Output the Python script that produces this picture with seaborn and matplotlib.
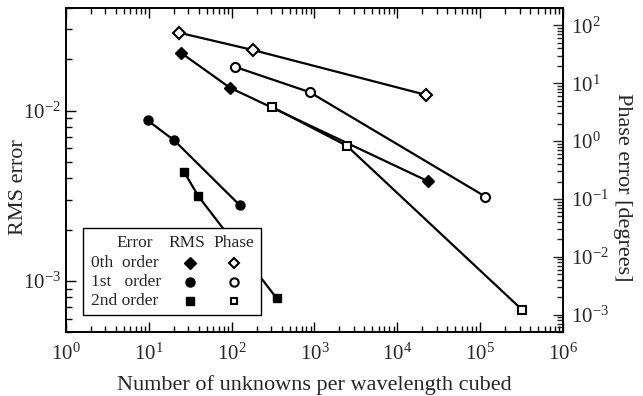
import numpy as np
import pandas as pd
import seaborn as sns
import matplotlib
matplotlib.use("Agg")
import matplotlib.pyplot as plt
from matplotlib.ticker import FixedLocator, LogFormatterMathtext, NullFormatter
from matplotlib.patches import Rectangle
from matplotlib.lines import Line2D

# Unknowns per wavelength cubed and errors for each basis order
n_rms0 = [24.5, 95.5, 23500]
rms0 = [0.0218, 0.0136, 0.00384]
n_rms1 = [9.7, 20.3, 126]
rms1 = [0.00874, 0.00667, 0.00277]
n_rms2 = [26.8, 39.6, 350]
rms2 = [0.00434, 0.00314, 0.000788]

n_ph0 = [23.2, 181, 22300]
ph0 = [74.8, 37.5, 6.28]
n_ph1 = [111, 877, 115000]
ph1 = [19.1, 7.0, 0.11]
n_ph2 = [307, 2455, 319000]
ph2 = [3.9, 0.83, 0.00122]

order_labels = ["0th  order", "1st   order", "2nd order"]
header_labels = ["Error", "RMS", "Phase"]

x_major = [1e0, 1e1, 1e2, 1e3, 1e4, 1e5, 1e6]
rms_major = [1e-3, 1e-2]
ph_major = [1e-3, 1e-2, 1e-1, 1e0, 1e1, 1e2]


def minor_ticks(lo, hi):
    vals = []
    for e in range(int(np.floor(np.log10(lo))), int(np.ceil(np.log10(hi))) + 1):
        for k in range(2, 10):
            v = k * 10.0 ** e
            if lo <= v <= hi:
                vals.append(v)
    return vals


sns.set_style("ticks")
plt.rcParams["font.family"] = ["Liberation Serif", "DejaVu Serif"]
plt.rcParams["mathtext.fontset"] = "custom"
plt.rcParams["mathtext.rm"] = "Liberation Serif"
plt.rcParams["mathtext.it"] = "Liberation Serif:italic"
plt.rcParams["mathtext.bf"] = "Liberation Serif:bold"
plt.rcParams["axes.unicode_minus"] = False

fig = plt.figure(figsize=(6.43, 3.96), dpi=100)
ax = fig.add_axes([0.1026, 0.1616, 0.773, 0.8182])
ax2 = ax.twinx()

markers = ["D", "o", "s"]
msizes = [6.0, 6.5, 5.5]
lw = 1.6

rms_sets = [(n_rms0, rms0), (n_rms1, rms1), (n_rms2, rms2)]
ph_sets = [(n_ph0, ph0), (n_ph1, ph1), (n_ph2, ph2)]

for (xs, ys), m, ms in zip(rms_sets, markers, msizes):
    df = pd.DataFrame({"n": xs, "err": ys})
    sns.lineplot(data=df, x="n", y="err", ax=ax, color="black", lw=lw,
                 marker=m, markersize=ms, markerfacecolor="black",
                 markeredgecolor="black", markeredgewidth=1.0,
                 sort=False, estimator=None)

for (xs, ys), m, ms in zip(ph_sets, markers, msizes):
    df = pd.DataFrame({"n": xs, "err": ys})
    sns.lineplot(data=df, x="n", y="err", ax=ax2, color="black", lw=lw,
                 marker=m, markersize=ms, markerfacecolor="white",
                 markeredgecolor="black", markeredgewidth=1.5,
                 sort=False, estimator=None)

for a in (ax, ax2):
    a.set_xscale("log")
    a.set_yscale("log")
ax.set_xlim(1, 1e6)
ax.set_ylim(5e-4, 4e-2)
ax2.set_ylim(5e-4, 200)

ax.xaxis.set_major_locator(FixedLocator(x_major))
ax.xaxis.set_minor_locator(FixedLocator(minor_ticks(1, 1e6)))
ax.xaxis.set_major_formatter(LogFormatterMathtext())
ax.xaxis.set_minor_formatter(NullFormatter())
ax.yaxis.set_major_locator(FixedLocator(rms_major))
ax.yaxis.set_minor_locator(FixedLocator(minor_ticks(5e-4, 4e-2)))
ax2.yaxis.set_major_locator(FixedLocator(ph_major))
ax2.yaxis.set_minor_locator(FixedLocator(minor_ticks(5e-4, 200)))
for a in (ax, ax2):
    a.yaxis.set_major_formatter(LogFormatterMathtext())
    a.yaxis.set_minor_formatter(NullFormatter())

ax.tick_params(axis="both", which="both", direction="in", top=True, right=False,
               labelsize=15, width=1.0, color="black")
ax.tick_params(axis="both", which="major", length=7)
ax.tick_params(axis="both", which="minor", length=4)
ax.tick_params(axis="x", pad=8)
ax2.tick_params(axis="y", which="both", direction="in", labelsize=15, width=1.0)
ax2.tick_params(axis="y", which="major", length=7, pad=6)
ax2.tick_params(axis="y", which="minor", length=4)

for a in (ax, ax2):
    for s in a.spines.values():
        s.set_linewidth(1.2)
        s.set_color("black")
        s.set_visible(True)

ax.set_xlabel("Number of unknowns per wavelength cubed", fontsize=16, labelpad=8)
ax.set_ylabel("RMS error", fontsize=16)
ax.yaxis.set_label_coords(-0.076, 0.446)
ax2.set_ylabel("Phase error [degrees]", fontsize=16, rotation=270, va="center")
ax2.yaxis.set_label_coords(1.119, 0.446)

# Boxed key: order rows, RMS (filled) and phase (open) columns
tr = ax2.transAxes
ax2.add_patch(Rectangle((0.034, 0.052), 0.358, 0.269, transform=tr,
                        facecolor="white", edgecolor="black", lw=1.0, zorder=10))
fs = 12.5
row_y = [0.213, 0.155, 0.097]
ax2.text(0.139, 0.275, header_labels[0], transform=tr, ha="center", va="center",
         fontsize=fs, zorder=11)
ax2.text(0.243, 0.275, header_labels[1], transform=tr, ha="center", va="center",
         fontsize=fs, zorder=11)
ax2.text(0.338, 0.275, header_labels[2], transform=tr, ha="center", va="center",
         fontsize=fs, zorder=11)
for lab, y, m, ms in zip(order_labels, row_y, markers, msizes):
    ax2.text(0.050, y, lab, transform=tr, ha="left", va="center",
             fontsize=fs, zorder=11)
    ax2.add_line(Line2D([0.250], [y], transform=tr, marker=m, markersize=ms,
                        color="black", markerfacecolor="black", ls="none",
                        zorder=11))
    ax2.add_line(Line2D([0.338], [y], transform=tr, marker=m, markersize=ms - 0.5,
                        color="black", markerfacecolor="white", markeredgewidth=1.5,
                        ls="none", zorder=11))

fig.savefig("out.png", dpi=100)
